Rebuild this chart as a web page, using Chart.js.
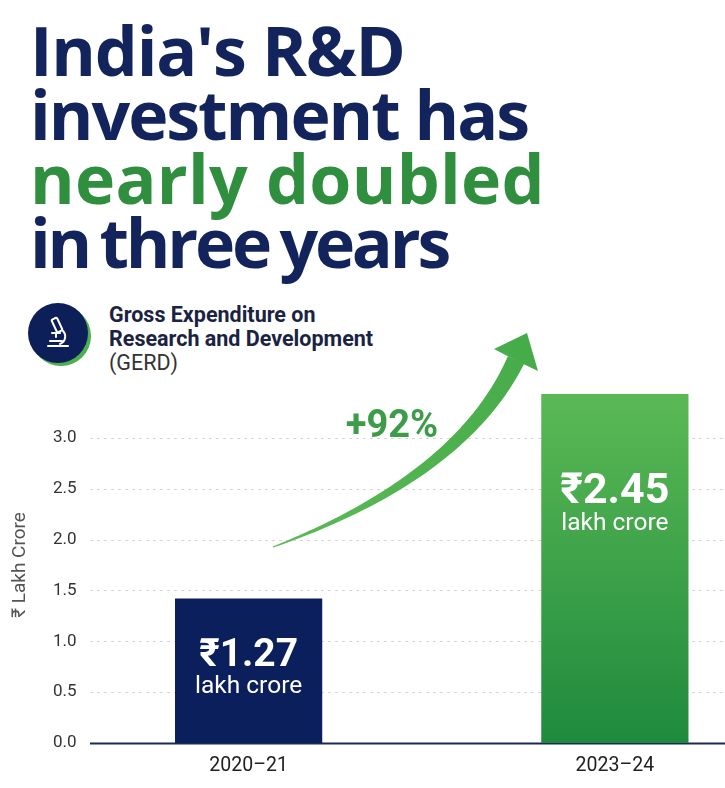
<!DOCTYPE html>
<html>
<head>
<meta charset="utf-8">
<script src="https://cdn.jsdelivr.net/npm/chart.js@4.4.1/dist/chart.umd.min.js"></script>
<style>
  html, body { margin: 0; padding: 0; background: #fff; overflow: hidden; }
  body { width: 725px; height: 788px; position: relative; font-family: Roboto, "Noto Sans", sans-serif; }
  .title {
    position: absolute; left: 30px; top: 18px;
    font-family: "Open Sans", sans-serif;
    font-size: 68px; line-height: 64px; font-weight: 700;
    color: #13245c; white-space: nowrap;
  }
  .title span { display: block; }
  .title .l1 { letter-spacing: -1.2px; }
  .title .l2 { letter-spacing: -2px; }
  .title .l3 { letter-spacing: 0.3px; color: #2f8f3f; }
  .title .l4 { letter-spacing: -3.2px; word-spacing: -4px; }
  .icon { position: absolute; left: 26px; top: 301px; }
  .sub {
    position: absolute; left: 109px; top: 303px;
    font-size: 21.5px; line-height: 24px; color: #1a2342; font-weight: 700;
  }
  .sub .light { font-weight: 400; color: #333; }
  .chart-box { position: absolute; left: 0; top: 300px; width: 798px; height: 488px; }
</style>
</head>
<body>
<div class="title">
  <span class="l1">India's R&amp;D</span>
  <span class="l2">investment has</span>
  <span class="l3">nearly doubled</span>
  <span class="l4">in three years</span>
</div>

<svg class="icon" width="68" height="68" viewBox="0 0 68 68">
  <circle cx="35" cy="35" r="30" fill="#4cb050"/>
  <circle cx="32" cy="32" r="30" fill="#0d1f58"/>
  <g fill="none" stroke="#fff" stroke-width="2" stroke-linecap="round" stroke-linejoin="round">
    <rect x="28" y="17" width="6" height="14" rx="1.5" transform="rotate(-25 31 24)"/>
    <path d="M26 32 h8"/>
    <path d="M30 32 v4"/>
    <path d="M37 30 a8 8 0 0 1 -3 13"/>
    <path d="M24 40 h12 M22 45 h20"/>
  </g>
</svg>
<div class="sub">Gross Expenditure on<br>Research and Development<br><span class="light">(GERD)</span></div>

<div class="chart-box"><canvas id="gerdChart"></canvas></div>

<script>
// Data
const years = ['2020\u201321', '2023\u201324'];
const barHeights = [1.42, 3.43];          // bar tops as drawn against the axis
const valueLabels = ['\u20b91.27', '\u20b92.45'];
const unitLabel = 'lakh crore';
const yTicks = [0, 0.5, 1.0, 1.5, 2.0, 2.5, 3.0];
const growthLabel = '+92%';

const navy = '#0b1f5c';
const tickColor = '#333';
const gridLeft = 90;   // gridlines start right of the tick labels
const gridRight = 725;

// Per-bar label styling (baseline offset from bar top in px)
const labelStyle = [
  { big: 39, small: 24.5, bigY: 67, smallY: 94 },
  { big: 43, small: 24.5, bigY: 109, smallY: 136 }
];

// Dotted gridlines and the base line
const gridPlugin = {
  id: 'refGrid',
  beforeDatasetsDraw(chart) {
    const ctx = chart.ctx;
    const y = chart.scales.y;
    ctx.save();
    yTicks.forEach(v => {
      const py = Math.round(y.getPixelForValue(v)) + 0.5;
      ctx.beginPath();
      if (v === 0) {
        ctx.setLineDash([]);
        ctx.strokeStyle = '#1a2a5a';
        ctx.lineWidth = 2;
      } else {
        ctx.setLineDash([3, 4]);
        ctx.strokeStyle = '#d6d6d6';
        ctx.lineWidth = 1;
      }
      ctx.moveTo(gridLeft, py);
      ctx.lineTo(gridRight, py);
      ctx.stroke();
    });
    ctx.restore();
  }
};

// Labels inside the bars
const barTextPlugin = {
  id: 'barText',
  afterDatasetsDraw(chart) {
    const ctx = chart.ctx;
    const meta = chart.getDatasetMeta(0);
    meta.data.forEach((bar, i) => {
      const s = labelStyle[i];
      ctx.save();
      ctx.fillStyle = '#fff';
      ctx.textAlign = 'center';
      ctx.textBaseline = 'alphabetic';
      ctx.font = `700 ${s.big}px Roboto, "Noto Sans", sans-serif`;
      ctx.fillText(valueLabels[i], bar.x, bar.y + s.bigY);
      ctx.font = `400 ${s.small}px Roboto, "Noto Sans", sans-serif`;
      ctx.fillText(unitLabel, bar.x, bar.y + s.smallY);
      ctx.restore();
    });
  }
};

// Curved growth arrow with the percentage
const arrowPlugin = {
  id: 'growthArrow',
  afterDraw(chart) {
    const ctx = chart.ctx;
    const p0 = { x: 273, y: 247 }, p1 = { x: 461, y: 177 }, p2 = { x: 516, y: 60 };
    const pt = t => ({
      x: (1 - t) * (1 - t) * p0.x + 2 * (1 - t) * t * p1.x + t * t * p2.x,
      y: (1 - t) * (1 - t) * p0.y + 2 * (1 - t) * t * p1.y + t * t * p2.y
    });
    const left = [], right = [];
    const n = 50;
    for (let i = 0; i <= n; i++) {
      const t = i / n;
      const a = pt(Math.max(0, t - 0.01)), b = pt(Math.min(1, t + 0.01));
      const dx = b.x - a.x, dy = b.y - a.y, len = Math.hypot(dx, dy);
      const nx = -dy / len, ny = dx / len;
      const w = 0.5 + 8.5 * Math.pow(t, 0.9);
      const p = pt(t);
      left.push({ x: p.x + nx * w, y: p.y + ny * w });
      right.push({ x: p.x - nx * w, y: p.y - ny * w });
    }
    ctx.save();
    const grad = ctx.createLinearGradient(p0.x, p0.y, 530, 35);
    grad.addColorStop(0, '#5cba55');
    grad.addColorStop(1, '#45ab49');
    ctx.fillStyle = grad;
    ctx.beginPath();
    left.forEach((p, i) => i ? ctx.lineTo(p.x, p.y) : ctx.moveTo(p.x, p.y));
    right.reverse().forEach(p => ctx.lineTo(p.x, p.y));
    ctx.closePath();
    ctx.fill();
    // head
    ctx.beginPath();
    ctx.moveTo(527, 33);
    ctx.lineTo(538, 71);
    ctx.lineTo(517, 61);
    ctx.lineTo(494, 49);
    ctx.closePath();
    ctx.fill();
    ctx.fillStyle = '#3d9c47';
    ctx.font = '700 38px Roboto, "Noto Sans", sans-serif';
    ctx.textAlign = 'center';
    ctx.textBaseline = 'alphabetic';
    ctx.fillText(growthLabel, 392, 137);
    ctx.restore();
  }
};

const ctx = document.getElementById('gerdChart').getContext('2d');
new Chart(ctx, {
  type: 'bar',
  data: {
    labels: years,
    datasets: [{
      data: barHeights,
      backgroundColor: (c) => {
        if (c.dataIndex === 0) return navy;
        const area = c.chart.chartArea;
        if (!area) return '#44a84a';
        const g = c.chart.ctx.createLinearGradient(0, area.top, 0, area.bottom);
        g.addColorStop(0, '#5cba55');
        g.addColorStop(1, '#1f8a3e');
        return g;
      },
      borderWidth: 0,
      barPercentage: 0.402,
      categoryPercentage: 1
    }]
  },
  options: {
    responsive: true,
    maintainAspectRatio: false,
    animation: false,
    layout: { padding: { top: 87, right: 0, left: 0, bottom: 0 } },
    plugins: { legend: { display: false }, tooltip: { enabled: false } },
    scales: {
      x: {
        grid: { display: false, drawTicks: false },
        border: { display: false },
        ticks: { color: '#222', font: { size: 19.5, family: 'Roboto' }, padding: 11 },
        afterFit(scale) { scale.height = 45; }
      },
      y: {
        min: 0,
        max: 3.5,
        afterBuildTicks(scale) {
          scale.ticks = yTicks.map(v => ({ value: v }));
        },
        ticks: {
          color: tickColor,
          font: { size: 17, family: 'Roboto' },
          mirror: true,
          crossAlign: 'near',
          padding: -12.5,
          callback: v => v.toFixed(1)
        },
        grid: { display: false, drawTicks: false },
        border: { display: false },
        title: {
          display: true,
          text: '\u20b9 Lakh Crore',
          color: '#555',
          font: { size: 19, family: 'Roboto' },
          padding: { top: 9, bottom: 0 }
        },
        afterFit(scale) { scale.width = 65.5; }
      }
    }
  },
  plugins: [gridPlugin, barTextPlugin, arrowPlugin]
});
</script>
</body>
</html>
